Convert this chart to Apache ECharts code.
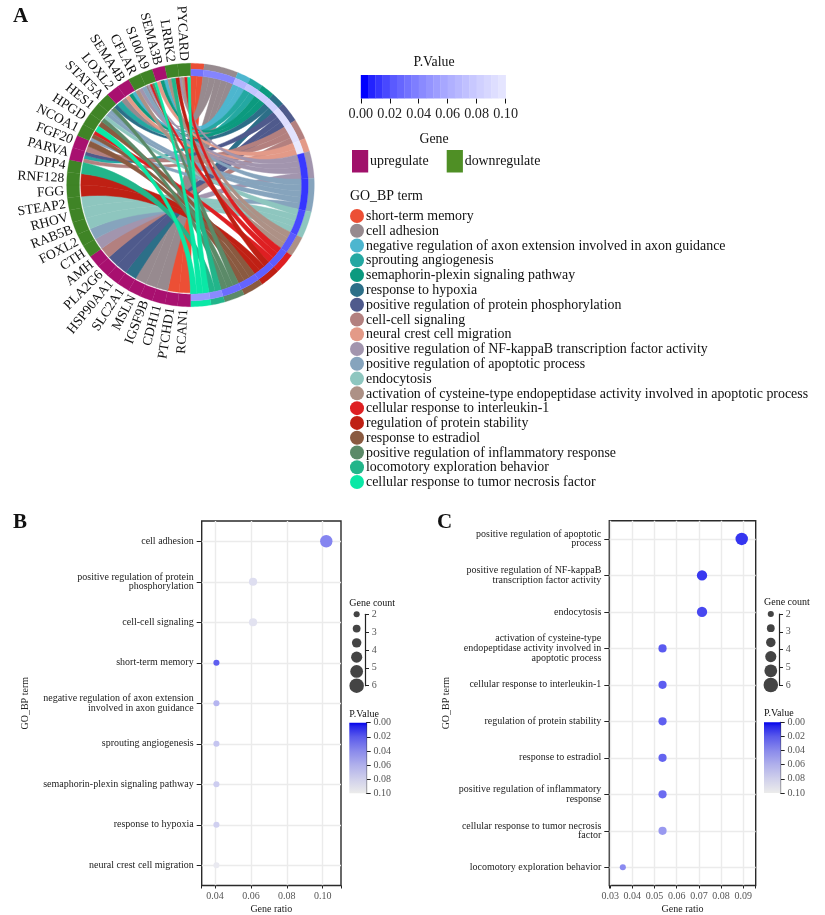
<!DOCTYPE html>
<html><head><meta charset="utf-8">
<style>html,body{margin:0;padding:0;background:#fff}#c{width:825px;height:915px}</style>
<script src="https://cdn.jsdelivr.net/npm/echarts@6/dist/echarts.min.js"></script>
</head><body><div id="c"></div>
<script>
const FONT = '"Liberation Serif","Times New Roman",serif';

// ---- Panel A data ----
const genes = ['RCAN1','PTCHD1','CDH11','IGSF9B','MSLN','SLC2A1','HSP90AA1','PLA2G6','AMH','CTH','FOXL2','RAB5B','RHOV','STEAP2','FGG','RNF128','DPP4','PARVA','FGF20','NCOA1','HPGD','HES1','STAT5A','LOXL2','SEMA4B','CFLAR','S100A9','SEMA3B','LRRK2','PYCARD'];
const geneUp = [1,1,1,1,1,1,1,1,1,0,0,0,0,0,0,0,0,1,1,0,0,0,0,1,1,0,0,1,0,0];
const terms = ['short-term memory','cell adhesion','negative regulation of axon extension involved in axon guidance','sprouting angiogenesis','semaphorin-plexin signaling pathway','response to hypoxia','positive regulation of protein phosphorylation','cell-cell signaling','neural crest cell migration','positive regulation of NF-kappaB transcription factor activity','positive regulation of apoptotic process','endocytosis','activation of cysteine-type endopeptidase activity involved in apoptotic process','cellular response to interleukin-1','regulation of protein stability','response to estradiol','positive regulation of inflammatory response','locomotory exploration behavior','cellular response to tumor necrosis factor'];
const termColors = ['#ec4f35','#978a8f','#4db6cf','#24a8a2','#0c9a7f','#2c6f88','#4f5a8c','#b3807f','#e39a88','#a295ae','#86a4bd','#8ec6bf','#ad9186','#de1f22','#bf2014','#8a5a40','#5b8a68','#22b58a','#0ae8a6'];
const termP = [0.03,0.038,0.063,0.073,0.078,0.08,0.09,0.093,0.098,0.011,0.01,0.015,0.02,0.021,0.022,0.024,0.027,0.04,0.048];
// terms linked to each gene, clockwise along the gene's arc
const geneTerms = [[0],[0],[1],[1],[1],[5],[6],[6],[7],[9],[10],[11],[11],[11],[14],[14],[17],
  [7,3,6],[7,15],[10,15,13],[18,15],[16,11,10],[10,16,5],[3,1],[8,4,2],[12,9,10],[1,9,13,16,18],[8,4,2],[12,17,14],[9,12,13,18]];

// ---- Panel B data ----
const bCats = ['cell adhesion','positive regulation of protein\nphosphorylation','cell-cell signaling','short-term memory','negative regulation of axon extension\ninvolved in axon guidance','sprouting angiogenesis','semaphorin-plexin signaling pathway','response to hypoxia','neural crest cell migration'];
const bRatio = [0.102,0.0612,0.0612,0.0408,0.0408,0.0408,0.0408,0.0408,0.0408];
const bCount = [5,3,3,2,2,2,2,2,2];
const bP = [0.038,0.09,0.093,0.022,0.063,0.073,0.078,0.08,0.098];
const bTicks = [0.0326,0.04,0.06,0.08,0.10,0.1102];
const bLabels = [0.04,0.06,0.08,0.10];

// ---- Panel C data ----
const cCats = ['positive regulation of apoptotic\nprocess','positive regulation of NF-kappaB\ntranscription factor activity','endocytosis','activation of cysteine-type\nendopeptidase activity involved in\napoptotic process','cellular response to interleukin-1','regulation of protein stability','response to estradiol','positive regulation of inflammatory\nresponse','cellular response to tumor necrosis\nfactor','locomotory exploration behavior'];
const cRatio = [0.0893,0.0714,0.0714,0.0536,0.0536,0.0536,0.0536,0.0536,0.0536,0.0357];
const cCount = [5,4,4,3,3,3,3,3,3,2];
const cP = [0.01,0.011,0.015,0.02,0.021,0.022,0.024,0.027,0.048,0.04];
const cTicks = [0.0296,0.03,0.04,0.05,0.06,0.07,0.08,0.09,0.0956];
const cLabels = [0.03,0.04,0.05,0.06,0.07,0.08,0.09];

// ---- size legend and colour scale ----
const sizeLegend = [2,2.8,3.6,4.4,5.2,6];
const scaleP = [0,0.005,0.02,0.04,0.06,0.08,0.1];
const scaleV = [0,35,90,138,176,208,236];

// ---- helpers ----
function pColor(p,blue){
  let i=0; while(i<scaleP.length-2 && p>scaleP[i+1]) i++;
  const t=(p-scaleP[i])/(scaleP[i+1]-scaleP[i]);
  const v=Math.round(scaleV[i]+t*(scaleV[i+1]-scaleV[i]));
  return 'rgb('+v+','+v+','+(blue||255)+')';
}
const dotSize = c => 6.1+(c-2)*2.1;
const rad = d => d*Math.PI/180;
const pt = (theta,r) => [r*Math.sin(rad(theta)), r*Math.cos(rad(theta))];

// chord layout derived from the arrays above
const geneStep = 180/genes.length;
const termCount = terms.map((_,t)=>geneTerms.filter(l=>l.includes(t)).length);
const totalLinks = termCount.reduce((a,b)=>a+b,0);
const termStep = 180/totalLinks;
const termStart = []; { let a=0; termCount.forEach((n,i)=>{termStart[i]=a;a+=n*termStep;}); }

const R_TERM_OUT=1, R_TERM_IN=0.951, R_P_IN=0.897, R_GENE_IN=0.897, R_RIB_T=0.897, R_RIB_G=0.886, PULL=0.42;
const ringRows=[];
termCount.forEach((n,i)=>{
  ringRows.push({a:termStart[i],b:termStart[i]+n*termStep,r0:R_TERM_IN,r1:R_TERM_OUT,c:termColors[i]});
  ringRows.push({a:termStart[i],b:termStart[i]+n*termStep,r0:R_P_IN,r1:R_TERM_IN,c:pColor(termP[i])});
});
genes.forEach((g,i)=>{
  ringRows.push({a:180+i*geneStep,b:180+(i+1)*geneStep,r0:R_GENE_IN,r1:R_TERM_OUT,c:geneUp[i]?'#a8106f':'#3f8426'});
});
const ribbons=[];
terms.forEach((_,t)=>{
  let pos=termStart[t];
  for(let g=genes.length-1;g>=0;g--){
    const idx=geneTerms[g].indexOf(t);
    if(idx<0) continue;
    const w=geneStep/geneTerms[g].length;
    const g0=180+g*geneStep+idx*w;
    ribbons.push({t0:pos,t1:pos+termStep,g0:g0,g1:g0+w,c:termColors[t]});
    pos+=termStep;
  }
});
function arcPts(a,b,r){const n=Math.max(2,Math.ceil(Math.abs(b-a)/1.2));const o=[];for(let i=0;i<=n;i++)o.push(pt(a+(b-a)*i/n,r));return o;}
function bez(p,q){const o=[];for(let i=1;i<24;i++){const u=i/24,v=1-u;
  const a=v*v*v+3*v*v*u*PULL, b=u*u*u+3*u*u*v*PULL;
  o.push([a*p[0]+b*q[0],a*p[1]+b*q[1]]);}return o;}

// ---- layout constants ----
const grids=[
 {left:66.7,top:63.3,width:247.6,height:243.4},      //0 chord
 {left:360.8,top:75,width:144.8,height:23.5},        //1 colour bar
 {left:201.7,top:521,width:139.3,height:364.7},      //2 B
 {left:348.3,top:614.3,width:16.7,height:71.4},      //3 B size
 {left:349.3,top:722.7,width:17.4,height:70.6},      //4 B p
 {left:609.3,top:520.7,width:146.4,height:365},      //5 C
 {left:762.6,top:614,width:16.4,height:71},          //6 C size
 {left:764,top:722.3,width:16.7,height:70.7}         //7 C p
];
grids[2].show=grids[5].show=true;
grids[2].borderColor=grids[5].borderColor='#2a2a2a';
grids[2].borderWidth=grids[5].borderWidth=1.4;

const hiddenAxis=(i,min,max)=>({gridIndex:i,type:'value',min:min,max:max,show:false});
const tickLabel={fontFamily:FONT,fontSize:10,color:'#555'};
function ratioAxis(i,ticks,labels){return {gridIndex:i,type:'value',min:ticks[0],max:ticks[ticks.length-1],
  name:'Gene ratio',nameLocation:'middle',nameGap:18.5,nameTextStyle:{fontFamily:FONT,fontSize:10,color:'#222'},
  axisLine:{show:false},axisTick:{show:true,customValues:ticks,length:3,inside:false,lineStyle:{color:'#222',width:1}},
  axisLabel:{customValues:labels,formatter:v=>v.toFixed(2),margin:6,...tickLabel},
  splitLine:{show:true,showMinLine:false,showMaxLine:false,lineStyle:{color:'#ebebeb',width:1.4}}};}
function catAxis(i,cats,gap){return {gridIndex:i,type:'category',data:cats,inverse:true,boundaryGap:true,
  name:'GO_BP term',nameLocation:'middle',nameGap:gap,nameRotate:90,nameTextStyle:{fontFamily:FONT,fontSize:10,color:'#222'},
  axisLine:{show:false},axisTick:{show:true,alignWithLabel:true,length:5,lineStyle:{color:'#222',width:1}},
  axisLabel:{fontFamily:FONT,fontSize:10,color:'#222',lineHeight:9.6,margin:8,align:'right',interval:0},
  splitLine:{show:true,alignWithLabel:true,interval:0,lineStyle:{color:'#ebebeb',width:1.4}}};}
function sideAxis(i,min,max,interval,fmt){return {gridIndex:i,type:'value',position:'right',inverse:true,min:min,max:max,interval:interval,
  axisLine:{show:true,onZero:false,lineStyle:{color:'#222',width:1.2}},axisTick:{show:true,length:4,lineStyle:{color:'#222',width:1}},
  axisLabel:{margin:6.7,formatter:fmt,...tickLabel},splitLine:{show:false}};}

const xAxes=[hiddenAxis(0,-1,1),
 {gridIndex:1,type:'value',min:0,max:0.1,interval:0.02,axisLine:{show:false},axisTick:{show:true,length:5,lineStyle:{color:'#111',width:1}},
  axisLabel:{margin:9,fontFamily:FONT,fontSize:14.2,color:'#222',formatter:v=>v.toFixed(2)},splitLine:{show:false}},
 ratioAxis(2,bTicks,bLabels),hiddenAxis(3,0,1),hiddenAxis(4,0,1),
 ratioAxis(5,cTicks,cLabels),hiddenAxis(6,0,1),hiddenAxis(7,0,1)];
const yAxes=[hiddenAxis(0,-1,1),hiddenAxis(1,0,1),
 catAxis(2,bCats,171),sideAxis(3,2,6,1,v=>String(v)),sideAxis(4,0,0.1,0.02,v=>v.toFixed(2)),
 catAxis(5,cCats,158),sideAxis(6,2,6,1,v=>String(v)),sideAxis(7,0,0.1,0.02,v=>v.toFixed(2))];

// ---- series ----
function polyItem(api,pts,fill,sw){
  return {type:'polygon',shape:{points:pts.map(p=>api.coord(p))},style:{fill:fill,stroke:fill,lineWidth:sw}};
}
const ribbonSeries={type:'custom',xAxisIndex:0,yAxisIndex:0,clip:false,silent:true,z:2,
  data:ribbons.map((_,i)=>[i]),
  renderItem(params,api){
    const r=ribbons[params.dataIndex];
    const A=arcPts(r.t0,r.t1,R_RIB_T), B=arcPts(r.g0,r.g1,R_RIB_G);
    const pts=[...A,...bez(A[A.length-1],B[0]),...B,...bez(B[B.length-1],A[0])];
    return polyItem(api,pts,r.c,0.5);
  }};
const ringSeries={type:'custom',xAxisIndex:0,yAxisIndex:0,clip:false,silent:true,z:3,
  data:ringRows.map((_,i)=>[i]),
  renderItem(params,api){
    const r=ringRows[params.dataIndex];
    const pts=[...arcPts(r.a,r.b,r.r1),...arcPts(r.b,r.a,r.r0)];
    return polyItem(api,pts,r.c,0.3);
  }};
const labelSeries={type:'custom',xAxisIndex:0,yAxisIndex:0,clip:false,silent:true,z:4,
  data:genes.map((g,i)=>[i]),
  renderItem(params,api){
    const i=params.dataIndex, th=180+(i+0.5)*geneStep;
    const p=api.coord(pt(th,1.022));
    const fromBottom=th-180;
    return {type:'text',x:p[0],y:p[1],rotation:rad(90-fromBottom),
      style:{text:genes[i],align:'right',verticalAlign:'middle',fill:'#111',font:'13.6px '+FONT}};
  }};
const barSteps=[];for(let i=0;i<20;i++)barSteps.push([i*0.005,(i+1)*0.005]);
const barSeries={type:'custom',xAxisIndex:1,yAxisIndex:1,silent:true,clip:false,
  data:barSteps,
  renderItem(params,api){
    const a=api.coord([api.value(0),1]),b=api.coord([api.value(1),0]);
    return {type:'rect',shape:{x:a[0],y:a[1],width:b[0]-a[0]+0.3,height:b[1]-a[1]},style:{fill:pColor(api.value(0))}};
  }};
function gradSeries(i){return {type:'custom',xAxisIndex:i,yAxisIndex:i,silent:true,data:[[0]],
  renderItem(params,api){
    const a=api.coord([0,0]),b=api.coord([1,0.1]);
    return {type:'rect',shape:{x:a[0],y:a[1],width:b[0]-a[0],height:b[1]-a[1]},
      style:{fill:new echarts.graphic.LinearGradient(0,0,0,1,scaleP.map(p=>({offset:p/0.1,color:pColor(p,235)})))}};
  }};}
function dotSeries(i,ratio,count,p){return {type:'scatter',xAxisIndex:i,yAxisIndex:i,silent:true,z:5,
  data:ratio.map((x,k)=>[x,k,p[k],count[k]]),
  symbolSize:v=>dotSize(v[3]),
  itemStyle:{opacity:1,color:q=>pColor(q.value[2],240)}};}
function sizeSeries(i){return {type:'scatter',xAxisIndex:i,yAxisIndex:i,silent:true,
  data:sizeLegend.map(c=>[0.5,c]),symbolSize:v=>dotSize(v[1]),itemStyle:{color:'#444',opacity:1}};}

// ---- free text and legends ----
const gfx=[];
function txt(x,y,s,size,opt){gfx.push({type:'text',x:x,y:y,silent:true,z:10,style:Object.assign({text:s,font:(opt&&opt.bold?'bold ':'')+size+'px '+FONT,fill:'#111',verticalAlign:'middle',align:'left'},opt&&opt.align?{align:opt.align}:{})});}
txt(13,17,'A',21,{bold:true});txt(13,523,'B',21,{bold:true});txt(437,523,'C',21,{bold:true});
txt(434,62.5,'P.Value',13.8,{align:'center'});
txt(434,139,'Gene',13.8,{align:'center'});
gfx.push({type:'rect',shape:{x:352,y:150,width:16.2,height:22.5},style:{fill:'#a0106a'},silent:true});
gfx.push({type:'rect',shape:{x:446.7,y:150,width:16.2,height:22.5},style:{fill:'#4f8f25'},silent:true});
txt(370,161,'upregulate',13.9);txt(464.7,161,'downregulate',13.9);
txt(350,196,'GO_BP term',13.9);
terms.forEach((t,i)=>{
  const y=216+i*14.78;
  gfx.push({type:'circle',shape:{cx:357,cy:y,r:7},style:{fill:termColors[i]},silent:true});
  txt(366,y+0.5,t,13.9);
});
txt(349.3,603,'Gene count',10);txt(349.3,714,'P.Value',10);
txt(764,602.7,'Gene count',10);txt(764,713.7,'P.Value',10);

const option={animation:false,backgroundColor:'#fff',grid:grids,xAxis:xAxes,yAxis:yAxes,graphic:{elements:gfx},
 series:[ribbonSeries,ringSeries,labelSeries,barSeries,
  dotSeries(2,bRatio,bCount,bP),sizeSeries(3),gradSeries(4),
  dotSeries(5,cRatio,cCount,cP),sizeSeries(6),gradSeries(7)]};
echarts.init(document.getElementById('c'),null,{renderer:'canvas'}).setOption(option);
</script></body></html>
